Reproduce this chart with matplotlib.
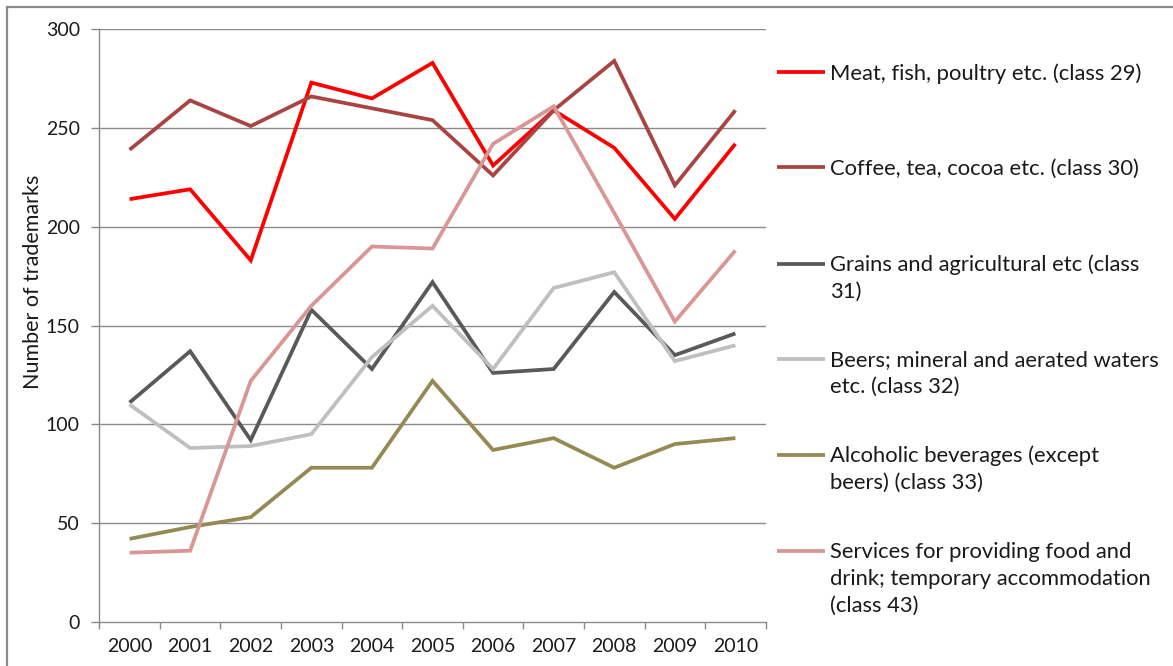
import matplotlib
matplotlib.use("Agg")
import matplotlib.pyplot as plt
from matplotlib.lines import Line2D

plt.rcParams['font.family'] = ['Lato', 'DejaVu Sans']

# ---- data -------------------------------------------------------------
years = ['2000', '2001', '2002', '2003', '2004', '2005',
         '2006', '2007', '2008', '2009', '2010']

meat = [214, 219, 183, 273, 265, 283, 231, 259, 240, 204, 242]
coffee = [239, 264, 251, 266, 260, 254, 226, 259, 284, 221, 259]
grains = [111, 137, 92, 158, 128, 172, 126, 128, 167, 135, 146]
beers = [110, 88, 89, 95, 134, 160, 128, 169, 177, 132, 140]
alcoholic = [42, 48, 53, 78, 78, 122, 87, 93, 78, 90, 93]
services = [35, 36, 122, 160, 190, 189, 242, 261, 207, 152, 188]

series_names = [
    ['Meat, fish, poultry etc. (class 29)'],
    ['Coffee, tea, cocoa etc. (class 30)'],
    ['Grains and agricultural etc (class', '31)'],
    ['Beers; mineral and aerated waters', 'etc. (class 32)'],
    ['Alcoholic beverages (except', 'beers) (class 33)'],
    ['Services for providing food and', 'drink; temporary accommodation',
     '(class 43)'],
]
series_values = [meat, coffee, grains, beers, alcoholic, services]
series_colors = ['#FF0000', '#A94442', '#595959', '#BFBFBF', '#948A54', '#D99694']

y_ticks = [0, 50, 100, 150, 200, 250, 300]
y_label = 'Number of trademarks'

# ---- figure -----------------------------------------------------------
W, H = 1173, 666
fig = plt.figure(figsize=(W / 100, H / 100), dpi=100)

def fx(px):
    return px / W

def fy(py):
    return 1 - py / H

left, right, top, bottom = 99.3, 765.7, 29.3, 621.8
ax = fig.add_axes([fx(left), fy(bottom), fx(right - left), (bottom - top) / H])

text_color = '#1a1a1a'
grid_color = '#8a8a8a'
fs = 14
fs_legend = 15.8

xs = list(range(len(years)))
for vals, col in zip(series_values, series_colors):
    ax.plot(xs, vals, color=col, lw=2.7, solid_joinstyle='miter',
            solid_capstyle='butt', zorder=3)

ax.set_xlim(-0.5, len(years) - 0.5)
ax.set_ylim(0, 300)

# category boundaries carry the tick marks, centres carry the labels
ax.set_xticks([i - 0.5 for i in range(len(years) + 1)])
ax.set_xticklabels([])
ax.set_xticks(xs, minor=True)
ax.set_xticklabels(years, minor=True, fontsize=fs, color=text_color)
ax.tick_params(axis='x', which='major', length=5, width=1, color=grid_color,
               direction='out')
ax.tick_params(axis='x', which='minor', length=0, pad=12)

ax.set_yticks(y_ticks)
ax.set_yticklabels([str(v) for v in y_ticks], fontsize=fs, color=text_color)
ax.tick_params(axis='y', length=6, width=1, color=grid_color, direction='out',
               pad=8)

for v in y_ticks[1:]:
    ax.axhline(v, color=grid_color, lw=1.0, zorder=1)

for side in ['top', 'right']:
    ax.spines[side].set_visible(False)
for side in ['left', 'bottom']:
    ax.spines[side].set_color(grid_color)
    ax.spines[side].set_linewidth(1.0)

fig.text(fx(33), fy(282), y_label, rotation=90, ha='center', va='center',
         fontsize=15.5, color=text_color)

# ---- legend -----------------------------------------------------------
handle_y = [72, 167, 264, 359, 455, 551]
line_pitch = 26.8
for lines, col, hy in zip(series_names, series_colors, handle_y):
    fig.add_artist(Line2D([fx(777), fx(825)], [fy(hy), fy(hy)], color=col,
                          lw=2.7, solid_capstyle='butt'))
    for k, line in enumerate(lines):
        fig.text(fx(830), fy(hy + k * line_pitch + 7.5), line, ha='left',
                 va='baseline', fontsize=fs_legend, color=text_color)

# ---- outer frame ------------------------------------------------------
frame_color = '#8c8c8c'
fig.add_artist(Line2D([fx(7), fx(W)], [fy(7), fy(7)], color=frame_color, lw=1.6))
fig.add_artist(Line2D([fx(7), fx(7)], [fy(7), fy(H)], color=frame_color, lw=1.6))

fig.savefig('out.png', dpi=100)
